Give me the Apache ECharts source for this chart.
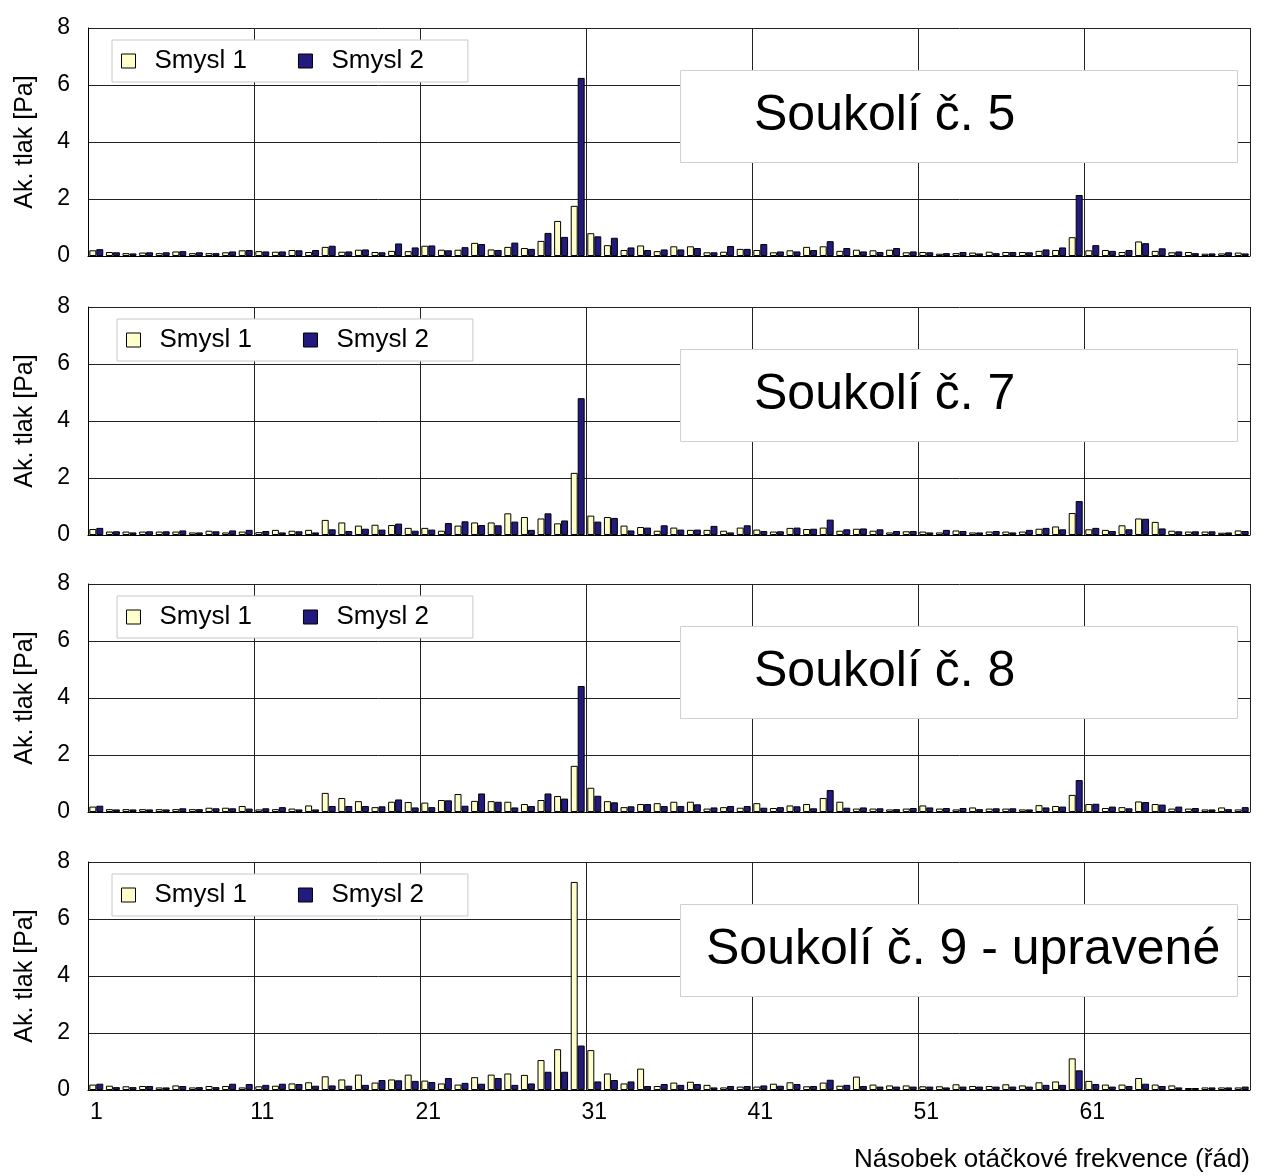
<!DOCTYPE html>
<html>
<head>
<meta charset="utf-8">
<script src="https://cdn.jsdelivr.net/npm/echarts@6/dist/echarts.min.js"></script>
<style>
html,body{margin:0;padding:0;background:#fff;}
#chart{width:1266px;height:1176px;}
</style>
</head>
<body>
<div id="chart"></div>
<script>
// Categories (order multiples)
const categories = ['1','2','3','4','5','6','7','8','9','10','11','12','13','14','15','16','17','18','19','20',
  '21','22','23','24','25','26','27','28','29','30','31','32','33','34','35','36','37','38','39','40',
  '41','42','43','44','45','46','47','48','49','50','51','52','53','54','55','56','57','58','59','60',
  '61','62','63','64','65','66','67','68','69','70'];

const seriesNames = ['Smysl 1', 'Smysl 2'];
const panelTitles = ['Soukolí č. 5', 'Soukolí č. 7', 'Soukolí č. 8', 'Soukolí č. 9 - upravené'];
const yTicks = [0, 2, 4, 6, 8];

// Soukolí č. 5
const s5_smysl1 = [0.2,0.14,0.1,0.12,0.1,0.16,0.1,0.1,0.13,0.2,0.17,0.15,0.21,0.14,0.32,0.15,0.22,0.14,0.18,0.17,0.36,0.22,0.22,
  0.46,0.23,0.32,0.28,0.53,1.23,1.76,0.8,0.38,0.21,0.37,0.17,0.34,0.34,0.13,0.15,0.25,0.21,0.13,0.2,0.32,0.34,0.18,0.22,
  0.2,0.22,0.13,0.14,0.08,0.1,0.12,0.15,0.14,0.14,0.18,0.21,0.66,0.2,0.21,0.14,0.51,0.18,0.13,0.14,0.08,0.09,0.12];
const s5_smysl2 = [0.24,0.13,0.09,0.13,0.13,0.17,0.13,0.1,0.16,0.21,0.16,0.16,0.2,0.21,0.36,0.16,0.23,0.13,0.44,0.3,0.37,0.2,0.31,
  0.42,0.21,0.47,0.25,0.81,0.67,6.25,0.69,0.64,0.3,0.21,0.23,0.23,0.28,0.13,0.35,0.25,0.42,0.16,0.16,0.21,0.52,0.28,0.16,
  0.14,0.28,0.16,0.13,0.1,0.14,0.09,0.1,0.14,0.13,0.23,0.3,2.14,0.38,0.18,0.21,0.45,0.27,0.16,0.1,0.09,0.13,0.09];

// Soukolí č. 7
const s7_smysl1 = [0.21,0.12,0.12,0.12,0.12,0.12,0.09,0.15,0.09,0.12,0.1,0.18,0.15,0.18,0.53,0.44,0.33,0.36,0.35,0.25,0.25,0.15,0.33,
  0.44,0.44,0.76,0.63,0.58,0.41,2.18,0.68,0.63,0.33,0.28,0.15,0.26,0.18,0.18,0.15,0.26,0.19,0.12,0.25,0.21,0.26,0.15,0.22,
  0.15,0.09,0.13,0.12,0.09,0.16,0.09,0.12,0.12,0.12,0.22,0.3,0.77,0.2,0.18,0.34,0.58,0.46,0.15,0.12,0.12,0.08,0.16];
const s7_smysl2 = [0.25,0.13,0.09,0.13,0.13,0.16,0.09,0.13,0.16,0.18,0.14,0.09,0.13,0.09,0.2,0.14,0.22,0.19,0.4,0.15,0.19,0.42,0.48,
  0.35,0.34,0.47,0.18,0.76,0.51,4.8,0.47,0.6,0.16,0.26,0.34,0.19,0.19,0.32,0.09,0.34,0.14,0.13,0.26,0.22,0.54,0.2,0.23,
  0.2,0.14,0.14,0.09,0.18,0.14,0.09,0.14,0.09,0.18,0.25,0.2,1.19,0.25,0.14,0.2,0.57,0.23,0.13,0.13,0.13,0.09,0.14];

// Soukolí č. 8
const s8_smysl1 = [0.19,0.1,0.1,0.1,0.1,0.1,0.1,0.15,0.15,0.21,0.09,0.1,0.12,0.23,0.67,0.49,0.38,0.17,0.36,0.35,0.33,0.42,0.63,
  0.39,0.38,0.36,0.28,0.42,0.56,1.62,0.85,0.38,0.17,0.28,0.31,0.36,0.36,0.12,0.17,0.15,0.31,0.14,0.23,0.28,0.49,0.36,0.12,
  0.12,0.09,0.12,0.23,0.12,0.09,0.16,0.12,0.12,0.09,0.24,0.21,0.6,0.28,0.14,0.17,0.37,0.28,0.12,0.12,0.09,0.16,0.09];
const s8_smysl2 = [0.22,0.09,0.09,0.09,0.09,0.13,0.1,0.13,0.13,0.12,0.13,0.17,0.09,0.09,0.21,0.21,0.21,0.2,0.44,0.16,0.17,0.41,0.22,
  0.65,0.36,0.16,0.21,0.65,0.47,4.42,0.57,0.34,0.2,0.28,0.21,0.21,0.27,0.16,0.21,0.21,0.15,0.17,0.2,0.13,0.77,0.15,0.16,
  0.13,0.1,0.14,0.16,0.14,0.14,0.1,0.13,0.13,0.09,0.16,0.19,1.12,0.29,0.19,0.13,0.35,0.26,0.19,0.14,0.09,0.1,0.17];

// Soukolí č. 9 - upravené
const s9_smysl1 = [0.19,0.15,0.13,0.14,0.09,0.16,0.09,0.14,0.14,0.09,0.13,0.15,0.23,0.27,0.48,0.37,0.54,0.26,0.37,0.54,0.33,0.23,0.19,
  0.45,0.54,0.58,0.53,1.05,1.43,7.3,1.4,0.58,0.23,0.75,0.14,0.26,0.29,0.18,0.09,0.12,0.12,0.22,0.27,0.13,0.26,0.15,0.47,
  0.19,0.16,0.16,0.13,0.13,0.2,0.14,0.14,0.2,0.16,0.27,0.3,1.11,0.32,0.19,0.19,0.42,0.19,0.16,0.07,0.09,0.09,0.09];
const s9_smysl2 = [0.22,0.1,0.1,0.14,0.09,0.14,0.1,0.1,0.22,0.21,0.18,0.22,0.21,0.15,0.16,0.15,0.18,0.35,0.34,0.32,0.28,0.42,0.25,
  0.22,0.42,0.18,0.23,0.64,0.64,1.56,0.3,0.35,0.3,0.14,0.21,0.18,0.21,0.09,0.14,0.14,0.16,0.15,0.21,0.14,0.36,0.18,0.14,
  0.12,0.12,0.12,0.12,0.09,0.12,0.12,0.12,0.12,0.12,0.18,0.18,0.69,0.21,0.12,0.14,0.22,0.14,0.09,0.07,0.09,0.09,0.12];

const panelData = [
  [s5_smysl1, s5_smysl2],
  [s7_smysl1, s7_smysl2],
  [s8_smysl1, s8_smysl2],
  [s9_smysl1, s9_smysl2]
];

// ---- layout / style ----
const FONT = "'Liberation Sans', Arial, sans-serif";
const colors = ['#FFFFCC', '#221a7c'];
const gridTops = [28, 307, 584, 862];
const gridH = 228;
const gridLeft = 88, gridW = 1162;
const legendLeft = [112, 117, 117, 112];
const titleX = [754, 754, 754, 706];

const grids = [], xAxes = [], yAxes = [], series = [], legends = [], graphics = [];
for (let i = 0; i < 4; i++) {
  grids.push({left: gridLeft, top: gridTops[i], width: gridW, height: gridH, show: false});
  xAxes.push({
    type: 'category', gridIndex: i, data: categories, boundaryGap: true,
    axisLine: {show: true, lineStyle: {color: '#000', width: 1}},
    axisTick: {show: false},
    axisLabel: {show: i === 3, interval: 9, fontSize: 23, color: '#000', fontFamily: FONT, margin: 11},
    splitLine: {show: true, interval: 9, lineStyle: {color: '#222', width: 1}}
  });
  yAxes.push({
    type: 'value', gridIndex: i, min: yTicks[0], max: yTicks[yTicks.length - 1], interval: 2,
    axisLine: {show: true, lineStyle: {color: '#000', width: 1}},
    axisTick: {show: false},
    axisLabel: {fontSize: 23, color: '#000', fontFamily: FONT, margin: 18},
    splitLine: {show: true, lineStyle: {color: '#222', width: 1}},
    name: 'Ak. tlak [Pa]', nameLocation: 'middle', nameGap: 50,
    nameTextStyle: {fontSize: 25, color: '#000', fontFamily: FONT}
  });
  for (let s = 0; s < 2; s++) {
    series.push({
      type: 'bar', name: seriesNames[s], xAxisIndex: i, yAxisIndex: i,
      data: panelData[i][s], barGap: '0%', barCategoryGap: '16%',
      itemStyle: {color: colors[s], borderColor: '#000', borderWidth: 1},
      emphasis: {disabled: true}, animation: false
    });
  }
  legends.push({
    data: seriesNames, left: legendLeft[i], top: gridTops[i] + 12, orient: 'horizontal',
    backgroundColor: '#fff', borderColor: '#c8c8c8', borderWidth: 1,
    padding: [8, 44, 8, 9], itemGap: 51, itemWidth: 14, itemHeight: 14,
    icon: 'rect', selectedMode: false,
    itemStyle: {borderColor: '#000', borderWidth: 1},
    textStyle: {fontSize: 26, color: '#000', fontFamily: FONT, padding: [0, 0, 0, 14]}
  });
  graphics.push({
    type: 'rect', left: 680, top: gridTops[i] + 42, z: 10,
    shape: {width: 557, height: 92},
    style: {fill: '#fff', stroke: '#d0d0d0', lineWidth: 1}
  });
  graphics.push({
    type: 'text', x: titleX[i], y: gridTops[i] + 88, z: 11,
    style: {text: panelTitles[i], fill: '#000', font: '50px ' + FONT, verticalAlign: 'middle', align: 'left'}
  });
}
graphics.push({
  type: 'text', right: 16, top: 1147, z: 11,
  style: {text: 'Násobek otáčkové frekvence (řád)', fill: '#000', font: '26px ' + FONT}
});

const chart = echarts.init(document.getElementById('chart'));
chart.setOption({
  backgroundColor: '#fff',
  animation: false,
  grid: grids, xAxis: xAxes, yAxis: yAxes, series: series,
  legend: legends, graphic: graphics
});
</script>
</body>
</html>
